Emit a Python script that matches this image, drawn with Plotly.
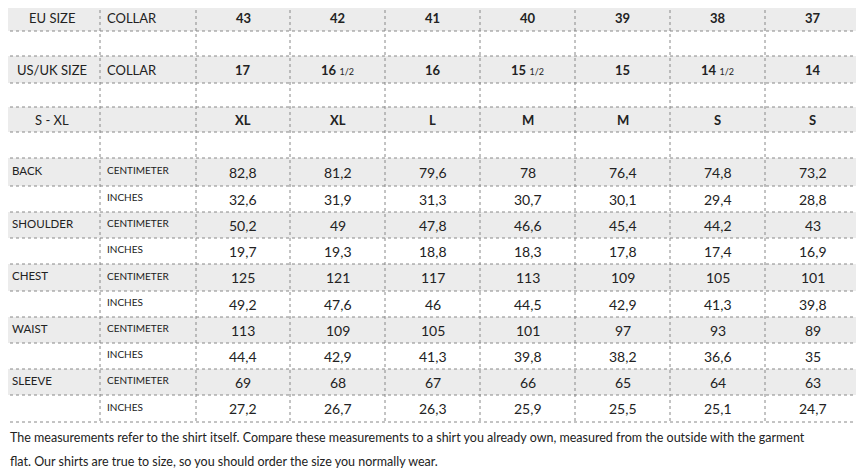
import plotly.graph_objects as go

eu_sizes = ["43", "42", "41", "40", "39", "38", "37"]
us_sizes = ["17", "16 1/2", "16", "15 1/2", "15", "14 1/2", "14"]
letter_sizes = ["XL", "XL", "L", "M", "M", "S", "S"]
measures = ["BACK", "SHOULDER", "CHEST", "WAIST", "SLEEVE"]
cm_values = [
    ["82,8", "81,2", "79,6", "78", "76,4", "74,8", "73,2"],
    ["50,2", "49", "47,8", "46,6", "45,4", "44,2", "43"],
    ["125", "121", "117", "113", "109", "105", "101"],
    ["113", "109", "105", "101", "97", "93", "89"],
    ["69", "68", "67", "66", "65", "64", "63"],
]
inch_values = [
    ["32,6", "31,9", "31,3", "30,7", "30,1", "29,4", "28,8"],
    ["19,7", "19,3", "18,8", "18,3", "17,8", "17,4", "16,9"],
    ["49,2", "47,6", "46", "44,5", "42,9", "41,3", "39,8"],
    ["44,4", "42,9", "41,3", "39,8", "38,2", "36,6", "35"],
    ["27,2", "26,7", "26,3", "25,9", "25,5", "25,1", "24,7"],
]
footer = ["The measurements refer to the shirt itself. Compare these measurements to a shirt you already own, measured from the outside with the garment",
          "flat. Our shirts are true to size, so you should order the size you normally wear."]

rows_y = [4, 31, 56, 83, 107, 132, 158, 186, 212, 238, 264, 291, 317, 343, 369, 395, 422]
cols_x = [4, 100, 196, 290, 385, 480, 575, 670, 765, 860]
FONT = "Lato, Open Sans, sans-serif"
TXT = "#222"

shapes, ann = [], []
for r in range(16):
    y0, y1 = rows_y[r], rows_y[r + 1]
    if r % 2 == 0:
        shapes.append(dict(type="rect", x0=cols_x[0], x1=cols_x[-1], y0=y0, y1=y1,
                           fillcolor="#ececec", line_width=0, layer="below"))
for y in rows_y:
    shapes.append(dict(type="line", x0=cols_x[0], x1=cols_x[-1], y0=y, y1=y,
                       line=dict(color="#888", width=1, dash="dot")))
for x in cols_x:
    shapes.append(dict(type="line", x0=x, x1=x, y0=rows_y[0], y1=rows_y[-1],
                       line=dict(color="#888", width=1, dash="dot")))

def cy(r):
    return (rows_y[r] + rows_y[r + 1]) / 2

def add(x, y, t, size=12, anchor="center", yshift=0):
    ann.append(dict(x=x, y=y, text=t, showarrow=False, xanchor=anchor, yanchor="middle",
                    font=dict(family=FONT, size=size, color=TXT), yshift=yshift))

def size_label(s):
    if " " in s:
        a, b = s.split(" ")
        return f"<b>{a}</b> <span style='font-size:9px'>{b}</span>"
    return f"<b>{s}</b>"

mid0 = (cols_x[0] + cols_x[1]) / 2
for r, lab, vals in [(0, "EU SIZE", eu_sizes), (2, "US/UK SIZE", us_sizes), (4, "S - XL", letter_sizes)]:
    add(mid0, cy(r), lab, 13)
    if r < 4:
        add(105, cy(r), "COLLAR", 13, "left")
    for i, v in enumerate(vals):
        add((cols_x[i + 2] + cols_x[i + 3]) / 2, cy(r), size_label(v), 13)

for m, name in enumerate(measures):
    rc, ri = 6 + 2 * m, 7 + 2 * m
    add(10, cy(rc), name, 11.5, "left", 2)
    add(105, cy(rc), "CENTIMETER", 10, "left", 2)
    add(105, cy(ri), "INCHES", 10, "left", 2)
    for i in range(7):
        xc = (cols_x[i + 2] + cols_x[i + 3]) / 2
        add(xc, cy(rc), cm_values[m][i], 14)
        add(xc, cy(ri), inch_values[m][i], 14)

add(8, 437, footer[0], 12.5, "left")
add(8, 461, footer[1], 12.5, "left")

fig = go.Figure()
fig.update_layout(width=856, height=462, margin=dict(l=0, r=0, t=0, b=0),
                  paper_bgcolor="white", plot_bgcolor="white",
                  xaxis=dict(range=[8, 864], visible=False, fixedrange=True),
                  yaxis=dict(range=[470, 8], visible=False, fixedrange=True),
                  shapes=shapes, annotations=ann, showlegend=False)
fig.write_html("out.html", config={"displayModeBar": False})
